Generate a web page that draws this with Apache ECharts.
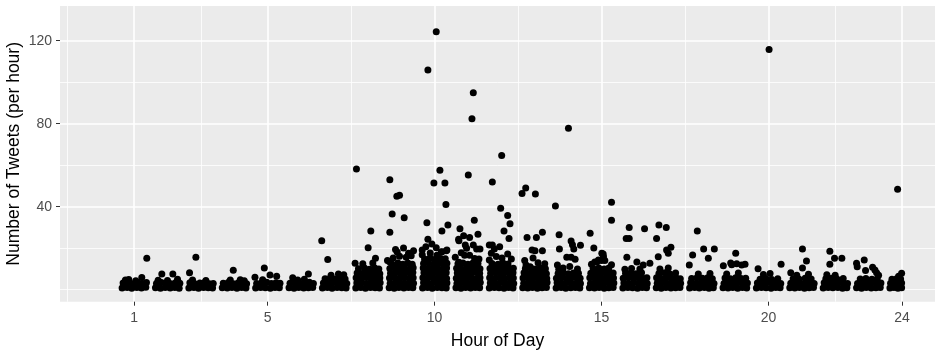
<!DOCTYPE html>
<html>
<head>
<meta charset="utf-8">
<script src="https://cdn.jsdelivr.net/npm/echarts@6/dist/echarts.min.js"></script>
<style>
  html, body { margin: 0; padding: 0; background: #ffffff; }
  #chart { width: 937px; height: 350px; }
</style>
</head>
<body>
<div id="chart"></div>
<script>
// Tweets per hour, jittered around the hour of day: [hour, tweets]
const hour01 = [[0.64,0.8],[0.79,1.1],[0.93,0.7],[1.08,1.0],[1.22,0.8],[1.35,1.2],
  [0.67,3.2],[0.82,3.6],[0.97,2.9],[1.11,3.4],[1.25,3.0],[1.37,3.5],
  [0.74,4.6],[0.84,4.9],[1.23,5.9],[1.05,4.3],[1.38,15.1]];
const hour02 = [[1.64,0.9],[1.79,0.7],[1.93,1.1],[2.08,0.8],[2.22,1.0],[2.35,0.7],
  [1.67,3.0],[1.82,3.4],[1.97,3.1],[2.11,2.8],[2.25,3.5],[2.37,3.1],
  [1.83,7.6],[2.16,7.6],[2.30,5.0],[1.72,4.5],[2.00,4.4]];
const hour03 = [[2.64,0.8],[2.79,1.0],[2.93,0.7],[3.08,1.1],[3.22,0.9],[3.35,0.8],
  [2.67,3.3],[2.82,2.9],[2.97,3.2],[3.11,3.5],[3.25,2.8],[3.37,3.0],
  [2.66,8.2],[2.85,15.6],[2.75,4.6],[3.15,4.4]];
const hour04 = [[3.64,0.9],[3.79,0.8],[3.93,1.0],[4.08,0.7],[4.22,1.1],[4.35,0.8],
  [3.67,3.1],[3.82,3.4],[3.97,2.9],[4.11,3.2],[4.25,3.5],[4.37,2.9],
  [3.97,9.4],[3.88,4.6],[4.18,4.8],[4.30,4.3]];
const hour05 = [[4.64,0.8],[4.79,1.0],[4.93,0.9],[5.08,0.7],[5.22,1.0],[5.35,0.9],
  [4.67,3.0],[4.82,3.3],[4.97,3.6],[5.11,3.0],[5.25,3.3],[5.37,3.1],
  [4.62,6.0],[4.90,10.5],[5.07,7.1],[5.27,6.5],[4.85,4.8]];
const hour06 = [[5.64,0.9],[5.79,0.7],[5.93,1.1],[6.08,0.8],[6.22,0.9],[6.35,1.0],
  [5.67,3.1],[5.82,3.5],[5.97,3.0],[6.11,3.3],[6.25,3.6],[6.37,3.0],
  [6.22,7.6],[5.75,5.8],[6.10,5.0],[5.90,4.6]];
const hour07 = [[6.64,0.8],[6.79,1.0],[6.93,0.7],[7.08,1.1],[7.22,0.9],[7.35,0.8],
  [6.67,3.2],[6.82,2.9],[6.97,3.4],[7.11,3.1],[7.25,3.3],[7.37,3.0],
  [6.72,5.2],[6.88,5.6],[7.02,5.0],[7.18,5.4],[7.32,5.1],
  [6.90,7.0],[7.12,7.6],[7.28,7.2],[6.62,23.6],[6.80,14.5]];
const hour08 = [[7.64,0.8],[7.79,1.0],[7.93,0.7],[8.08,1.1],[8.22,0.9],[8.35,0.8],
  [7.67,3.2],[7.82,3.4],[7.97,3.0],[8.11,3.5],[8.25,3.1],[8.37,3.3],
  [7.65,5.7],[7.80,5.4],[7.95,5.9],[8.09,5.5],[8.23,5.8],[8.36,5.6],
  [7.68,8.0],[7.83,7.8],[7.98,8.2],[8.12,7.9],[8.27,8.3],[8.36,7.7],
  [7.72,10.1],[7.90,10.4],[8.05,9.8],[8.20,10.6],[8.33,9.9],
  [7.62,12.7],[8.01,20.2],[8.23,15.1],[8.09,28.3],[7.66,58.2],[7.85,12.5],[8.15,12.8]];
const hour09 = [[8.64,0.9],[8.79,0.7],[8.93,1.0],[9.08,0.8],[9.22,1.1],[9.35,0.9],
  [8.67,3.1],[8.82,3.5],[8.97,3.2],[9.11,3.0],[9.25,3.4],[9.37,3.1],
  [8.65,5.6],[8.80,5.9],[8.95,5.4],[9.09,5.7],[9.24,5.5],[9.36,5.8],
  [8.68,7.9],[8.83,8.2],[8.98,7.8],[9.12,8.1],[9.27,7.9],[9.35,8.3],
  [8.66,10.2],[8.81,10.5],[8.96,10.0],[9.10,10.4],[9.26,10.1],[9.36,10.6],
  [8.72,12.4],[8.90,12.8],[9.05,12.2],[9.20,12.9],[9.33,12.3],
  [8.65,13.5],[8.83,19.3],[8.88,18.2],[9.07,20.1],[9.37,18.7],[8.59,14.0],
  [8.76,15.2],[9.15,15.6],[9.30,16.4],[8.95,16.1],[9.22,17.5],
  [8.66,53.0],[8.87,45.0],[8.95,45.5],[8.73,36.5],[9.09,34.6],[8.66,27.7]];
const hour10 = [[9.64,0.8],[9.79,1.0],[9.93,0.7],[10.08,1.1],[10.22,0.9],[10.35,0.8],
  [9.67,3.3],[9.82,3.0],[9.97,3.4],[10.11,3.1],[10.25,3.5],[10.37,3.2],
  [9.65,5.8],[9.80,5.5],[9.95,5.9],[10.09,5.6],[10.24,5.7],[10.36,5.4],
  [9.68,8.1],[9.83,7.9],[9.98,8.3],[10.12,7.8],[10.27,8.0],[10.35,8.2],
  [9.66,10.4],[9.81,10.1],[9.96,10.6],[10.10,10.3],[10.26,10.0],[10.36,10.5],
  [9.67,12.6],[9.82,12.9],[9.97,12.4],[10.11,12.8],[10.25,12.5],[10.37,12.7],
  [9.70,14.8],[9.86,15.2],[10.02,14.6],[10.18,15.0],[10.32,14.9],
  [9.63,19.1],[9.74,20.7],[10.05,20.2],[9.63,16.8],[9.87,17.7],[10.07,16.6],
  [10.20,18.2],[10.37,19.1],[10.22,18.3],[10.35,18.7],[9.92,22.0],
  [10.05,124.3],[9.80,105.9],[10.16,57.5],[9.98,51.4],[10.31,51.4],[10.34,41.0],
  [9.77,32.3],[10.40,31.2],[10.22,28.3],[9.80,24.3]];
const hour11 = [[10.64,0.9],[10.79,0.7],[10.93,1.0],[11.08,0.8],[11.22,1.1],[11.35,0.9],
  [10.67,3.0],[10.82,3.4],[10.97,3.1],[11.11,3.3],[11.25,2.9],[11.37,3.5],
  [10.65,5.5],[10.80,5.8],[10.95,5.6],[11.09,5.9],[11.24,5.4],[11.36,5.7],
  [10.68,8.0],[10.83,8.2],[10.98,7.8],[11.12,8.1],[11.27,8.3],[11.35,7.9],
  [10.66,10.3],[10.81,10.0],[10.96,10.5],[11.10,10.2],[11.26,10.6],[11.36,10.1],
  [10.70,12.5],[10.85,12.9],[11.00,12.3],[11.15,12.8],[11.30,12.6],
  [10.92,21.5],[10.96,20.0],[11.16,21.5],[11.26,19.6],[11.36,19.6],[10.62,15.6],
  [10.73,13.2],[10.90,16.6],[11.05,16.6],[11.20,15.0],[10.80,17.8],[11.33,14.8],
  [11.16,94.9],[11.12,82.4],[11.01,55.3],[11.19,33.4],[10.76,29.3],[10.87,26.0],
  [11.30,26.7],[11.05,25.1],[10.72,24.3],[10.73,23.6]];
const hour12 = [[11.64,0.8],[11.79,1.0],[11.93,0.9],[12.08,0.7],[12.22,1.0],[12.35,0.8],
  [11.67,3.2],[11.82,3.0],[11.97,3.5],[12.11,3.1],[12.25,3.3],[12.37,3.0],
  [11.65,5.7],[11.80,5.4],[11.95,5.8],[12.09,5.5],[12.24,5.9],[12.36,5.6],
  [11.68,7.9],[11.83,8.1],[11.98,7.8],[12.12,8.3],[12.27,7.9],[12.35,8.1],
  [11.66,10.2],[11.81,10.5],[11.96,10.1],[12.10,10.4],[12.26,10.0],[12.36,10.3],
  [11.72,12.6],[11.90,12.2],[12.05,12.9],[12.20,12.4],
  [11.64,21.5],[11.73,21.5],[11.79,19.6],[11.95,20.7],[11.64,14.3],[12.19,17.2],
  [11.85,16.0],[12.02,15.2],[12.30,14.8],[11.70,17.5],
  [12.01,64.6],[11.73,51.9],[11.98,39.2],[12.19,35.7],[12.26,31.8],[12.08,28.3],[12.23,24.6]];
const hour13 = [[12.64,0.9],[12.79,0.8],[12.93,1.1],[13.08,0.7],[13.22,0.9],[13.35,1.0],
  [12.67,3.1],[12.82,3.4],[12.97,3.0],[13.11,3.3],[13.25,3.1],[13.37,3.4],
  [12.65,5.6],[12.80,5.9],[12.95,5.5],[13.09,5.8],[13.24,5.6],[13.36,5.4],
  [12.68,8.1],[12.83,7.8],[12.98,8.2],[13.12,7.9],[13.27,8.0],[13.35,7.7],
  [12.72,10.2],[12.88,10.6],[13.03,10.0],[13.18,10.4],[13.32,10.1],
  [12.74,11.9],[12.86,11.1],[12.92,19.1],[13.01,18.8],[13.23,18.7],[12.70,14.0],
  [13.10,13.0],[13.30,12.5],[12.95,15.2],
  [12.73,49.0],[12.62,46.3],[13.02,46.1],[13.23,27.7],[12.77,25.1],[13.05,25.1]];
const hour14 = [[13.64,0.8],[13.79,1.0],[13.93,0.7],[14.08,0.9],[14.22,1.1],[14.35,0.8],
  [13.67,3.3],[13.82,3.0],[13.97,3.4],[14.11,3.1],[14.25,3.2],[14.37,3.0],
  [13.65,5.5],[13.80,5.8],[13.95,5.4],[14.09,5.7],[14.24,5.9],[14.36,5.5],
  [13.70,7.8],[13.86,8.2],[14.01,7.7],[14.16,8.0],[14.31,7.9],
  [13.68,11.9],[13.96,15.6],[14.09,15.6],[14.21,14.6],[13.74,19.6],[14.09,23.5],
  [14.13,21.7],[14.17,19.6],[14.37,21.4],[13.85,10.5],[14.05,11.2],[14.28,10.0],[13.72,9.8],
  [14.01,77.8],[13.62,40.3],[13.73,26.5]];
const hour15 = [[14.64,0.9],[14.79,0.8],[14.93,1.0],[15.08,0.7],[15.22,0.9],[15.35,1.1],
  [14.67,3.0],[14.82,3.3],[14.97,3.1],[15.11,3.5],[15.25,3.0],[15.37,3.2],
  [14.65,5.8],[14.80,5.5],[14.95,5.7],[15.09,5.4],[15.24,5.8],[15.36,5.6],
  [14.68,7.9],[14.83,8.1],[14.98,7.8],[15.12,8.2],[15.27,7.9],[15.35,8.0],
  [14.75,10.2],[14.92,10.5],[15.08,10.0],[15.22,10.4],
  [14.66,27.2],[14.77,20.1],[15.05,17.2],[15.00,14.1],[15.10,14.1],[15.01,17.5],
  [15.06,15.9],[14.91,14.3],[14.80,13.3],[14.86,13.3],[15.30,12.0],[14.70,12.3],
  [15.30,42.1],[15.30,33.4]];
const hour16 = [[15.64,0.8],[15.79,1.0],[15.93,0.9],[16.08,0.7],[16.22,1.0],[16.35,0.9],
  [15.67,3.2],[15.82,3.0],[15.97,3.4],[16.11,3.1],[16.25,3.3],[16.37,3.0],
  [15.65,5.5],[15.80,5.8],[15.95,5.6],[16.09,5.9],[16.24,5.4],[16.36,5.7],
  [15.72,7.9],[15.88,8.2],[16.04,7.7],[16.20,8.1],
  [15.76,15.6],[16.06,13.3],[16.25,11.9],[16.45,12.7],[15.90,10.2],[16.15,10.0],[15.70,9.8],
  [15.83,29.9],[15.74,24.6],[15.83,24.6],[16.29,29.4]];
const hour17 = [[16.64,0.9],[16.79,0.7],[16.93,1.0],[17.08,0.8],[17.22,0.9],[17.35,1.1],
  [16.67,3.1],[16.82,3.4],[16.97,3.0],[17.11,3.2],[17.25,3.5],[17.37,3.1],
  [16.65,5.7],[16.80,5.4],[16.95,5.8],[17.09,5.5],[17.24,5.6],[17.36,5.3],
  [16.72,7.8],[16.90,8.1],[17.05,7.6],[17.22,8.0],
  [16.70,15.9],[16.95,19.1],[17.08,20.4],[17.00,17.5],[16.75,10.0],[17.00,10.5],
  [16.72,31.2],[16.94,29.9],[16.65,24.6]];
const hour18 = [[17.64,0.8],[17.79,1.0],[17.93,0.8],[18.08,1.1],[18.22,0.7],[18.35,0.9],
  [17.67,3.3],[17.82,3.0],[17.97,3.2],[18.11,3.5],[18.25,3.1],[18.37,3.0],
  [17.70,5.4],[17.86,5.8],[18.02,5.5],[18.18,5.7],[18.32,5.3],
  [17.73,16.7],[18.06,19.6],[18.38,19.6],[18.20,15.1],[17.63,11.9],[18.25,7.8],[17.90,7.5],
  [17.87,28.3]];
const hour19 = [[18.64,0.9],[18.79,0.8],[18.93,1.0],[19.08,0.7],[19.22,1.0],[19.35,0.8],
  [18.67,3.0],[18.82,3.3],[18.97,3.1],[19.11,3.4],[19.25,3.0],[19.37,3.2],
  [18.70,5.6],[18.86,5.3],[19.02,5.7],[19.18,5.4],[19.32,5.5],
  [19.02,17.5],[18.87,12.8],[19.05,12.5],[19.20,11.9],[18.65,11.5],[18.90,12.0],
  [19.30,12.2],[18.75,7.5],[19.10,8.0]];
const hour20 = [[19.64,0.8],[19.79,1.0],[19.93,0.9],[20.08,0.7],[20.22,1.1],[20.35,0.9],
  [19.67,3.2],[19.82,3.0],[19.97,3.4],[20.11,3.1],[20.25,3.3],[20.37,3.0],
  [19.75,5.0],[19.92,5.4],[20.10,4.9],[20.28,5.2],
  [20.38,12.2],[19.69,10.1],[20.67,8.2],[19.85,7.3],[20.05,7.8],
  [20.02,115.7]];
const hour21 = [[20.64,0.9],[20.79,0.8],[20.93,1.0],[21.08,0.7],[21.22,0.9],[21.35,1.1],
  [20.67,3.1],[20.82,3.4],[20.97,3.0],[21.11,3.2],[21.25,3.5],[21.37,3.0],
  [20.74,5.3],[20.92,5.0],[21.10,5.5],[21.28,5.1],
  [21.02,19.6],[21.14,13.8],[21.02,10.5],[20.85,7.0],[21.20,7.4]];
const hour22 = [[21.64,0.8],[21.79,1.0],[21.93,0.9],[22.08,1.1],[22.22,0.7],[22.35,0.9],
  [21.67,3.3],[21.82,3.0],[21.97,3.2],[22.11,3.5],[22.25,3.1],[22.37,3.0],
  [21.72,5.2],[21.90,5.5],[22.06,5.0],[22.24,5.4],
  [21.84,18.5],[21.98,15.1],[22.20,15.1],[21.84,12.2],[22.00,7.0],[21.75,7.2]];
const hour23 = [[22.64,0.9],[22.79,0.7],[22.93,1.0],[23.08,0.8],[23.22,0.9],[23.35,1.0],
  [22.67,3.0],[22.82,3.3],[22.97,3.1],[23.11,3.4],[23.25,3.0],[23.37,3.2],
  [22.75,5.1],[22.92,5.4],[23.10,5.0],[23.26,5.3],
  [22.64,12.7],[22.66,11.1],[22.87,14.3],[22.91,9.2],[23.12,10.8],[23.19,9.5],[23.24,8.2],[23.30,7.0]];
const hour24 = [[23.64,0.8],[23.76,1.0],[23.88,0.7],[23.99,0.9],
  [23.66,3.1],[23.78,3.4],[23.90,3.0],[23.99,3.2],
  [23.70,5.0],[23.84,5.3],[23.96,5.1],
  [23.99,7.9],[23.90,6.5],
  [23.87,48.4]];

const tweetsByHour = [hour01, hour02, hour03, hour04, hour05, hour06, hour07, hour08,
  hour09, hour10, hour11, hour12, hour13, hour14, hour15, hour16, hour17, hour18,
  hour19, hour20, hour21, hour22, hour23, hour24];

// Axis breaks
const hourBreaks = [1, 5, 10, 15, 20, 24];
const hourMinorBreaks = [-1, 3, 7.5, 12.5, 17.5, 22];
const countBreaks = [40, 80, 120];
const countMinorBreaks = [0, 20, 60, 100];

const points = [].concat(...tweetsByHour);

const chart = echarts.init(document.getElementById('chart'), null, { renderer: 'canvas' });

const FONT = '"Liberation Sans", Arial, sans-serif';
const X_MIN = -1.22, X_MAX = 24.99;
const Y_MIN = -5.8, Y_MAX = 136.7;

chart.setOption({
  animation: false,
  backgroundColor: '#ffffff',
  grid: {
    left: 60, right: 2, top: 6, bottom: 48.3,
    outerBoundsMode: 'none',
    containLabel: false,
    show: true, backgroundColor: '#EBEBEB', borderWidth: 0
  },
  xAxis: [
    {
      type: 'value', min: X_MIN, max: X_MAX,
      name: 'Hour of Day', nameLocation: 'middle', nameGap: 30, nameMoveOverlap: false,
      nameTextStyle: { color: '#000000', fontSize: 17.5, fontFamily: FONT },
      axisLine: { show: false, onZero: false },
      axisTick: { show: true, length: 4, customValues: hourBreaks, lineStyle: { color: '#333333', width: 1 } },
      axisLabel: { customValues: hourBreaks, color: '#4D4D4D', fontSize: 14, fontFamily: FONT, margin: 9 },
      splitLine: { show: true, lineStyle: { color: '#FFFFFF', width: 1.6 } }
    },
    {
      type: 'value', min: X_MIN, max: X_MAX, position: 'bottom',
      axisLine: { show: false, onZero: false },
      axisTick: { show: false, customValues: hourMinorBreaks },
      axisLabel: { show: false },
      splitLine: { show: true, lineStyle: { color: '#FFFFFF', width: 0.8 } }
    }
  ],
  yAxis: [
    {
      type: 'value', min: Y_MIN, max: Y_MAX,
      name: 'Number of Tweets (per hour)', nameLocation: 'middle', nameGap: 37, nameRotate: 90,
      nameMoveOverlap: false,
      nameTextStyle: { color: '#000000', fontSize: 17.5, fontFamily: FONT },
      axisLine: { show: false, onZero: false },
      axisTick: { show: true, length: 4, customValues: countBreaks, lineStyle: { color: '#333333', width: 1 } },
      axisLabel: { customValues: countBreaks, color: '#4D4D4D', fontSize: 14, fontFamily: FONT, margin: 8 },
      splitLine: { show: true, lineStyle: { color: '#FFFFFF', width: 1.6 } }
    },
    {
      type: 'value', min: Y_MIN, max: Y_MAX, position: 'left',
      axisLine: { show: false, onZero: false },
      axisTick: { show: false, customValues: countMinorBreaks },
      axisLabel: { show: false },
      splitLine: { show: true, lineStyle: { color: '#FFFFFF', width: 0.8 } }
    }
  ],
  series: [{
    type: 'scatter',
    xAxisIndex: 0, yAxisIndex: 0,
    data: points,
    symbol: 'circle',
    symbolSize: 7,
    itemStyle: { color: '#000000', opacity: 1 },
    silent: true,
    large: false
  }]
});
</script>
</body>
</html>
